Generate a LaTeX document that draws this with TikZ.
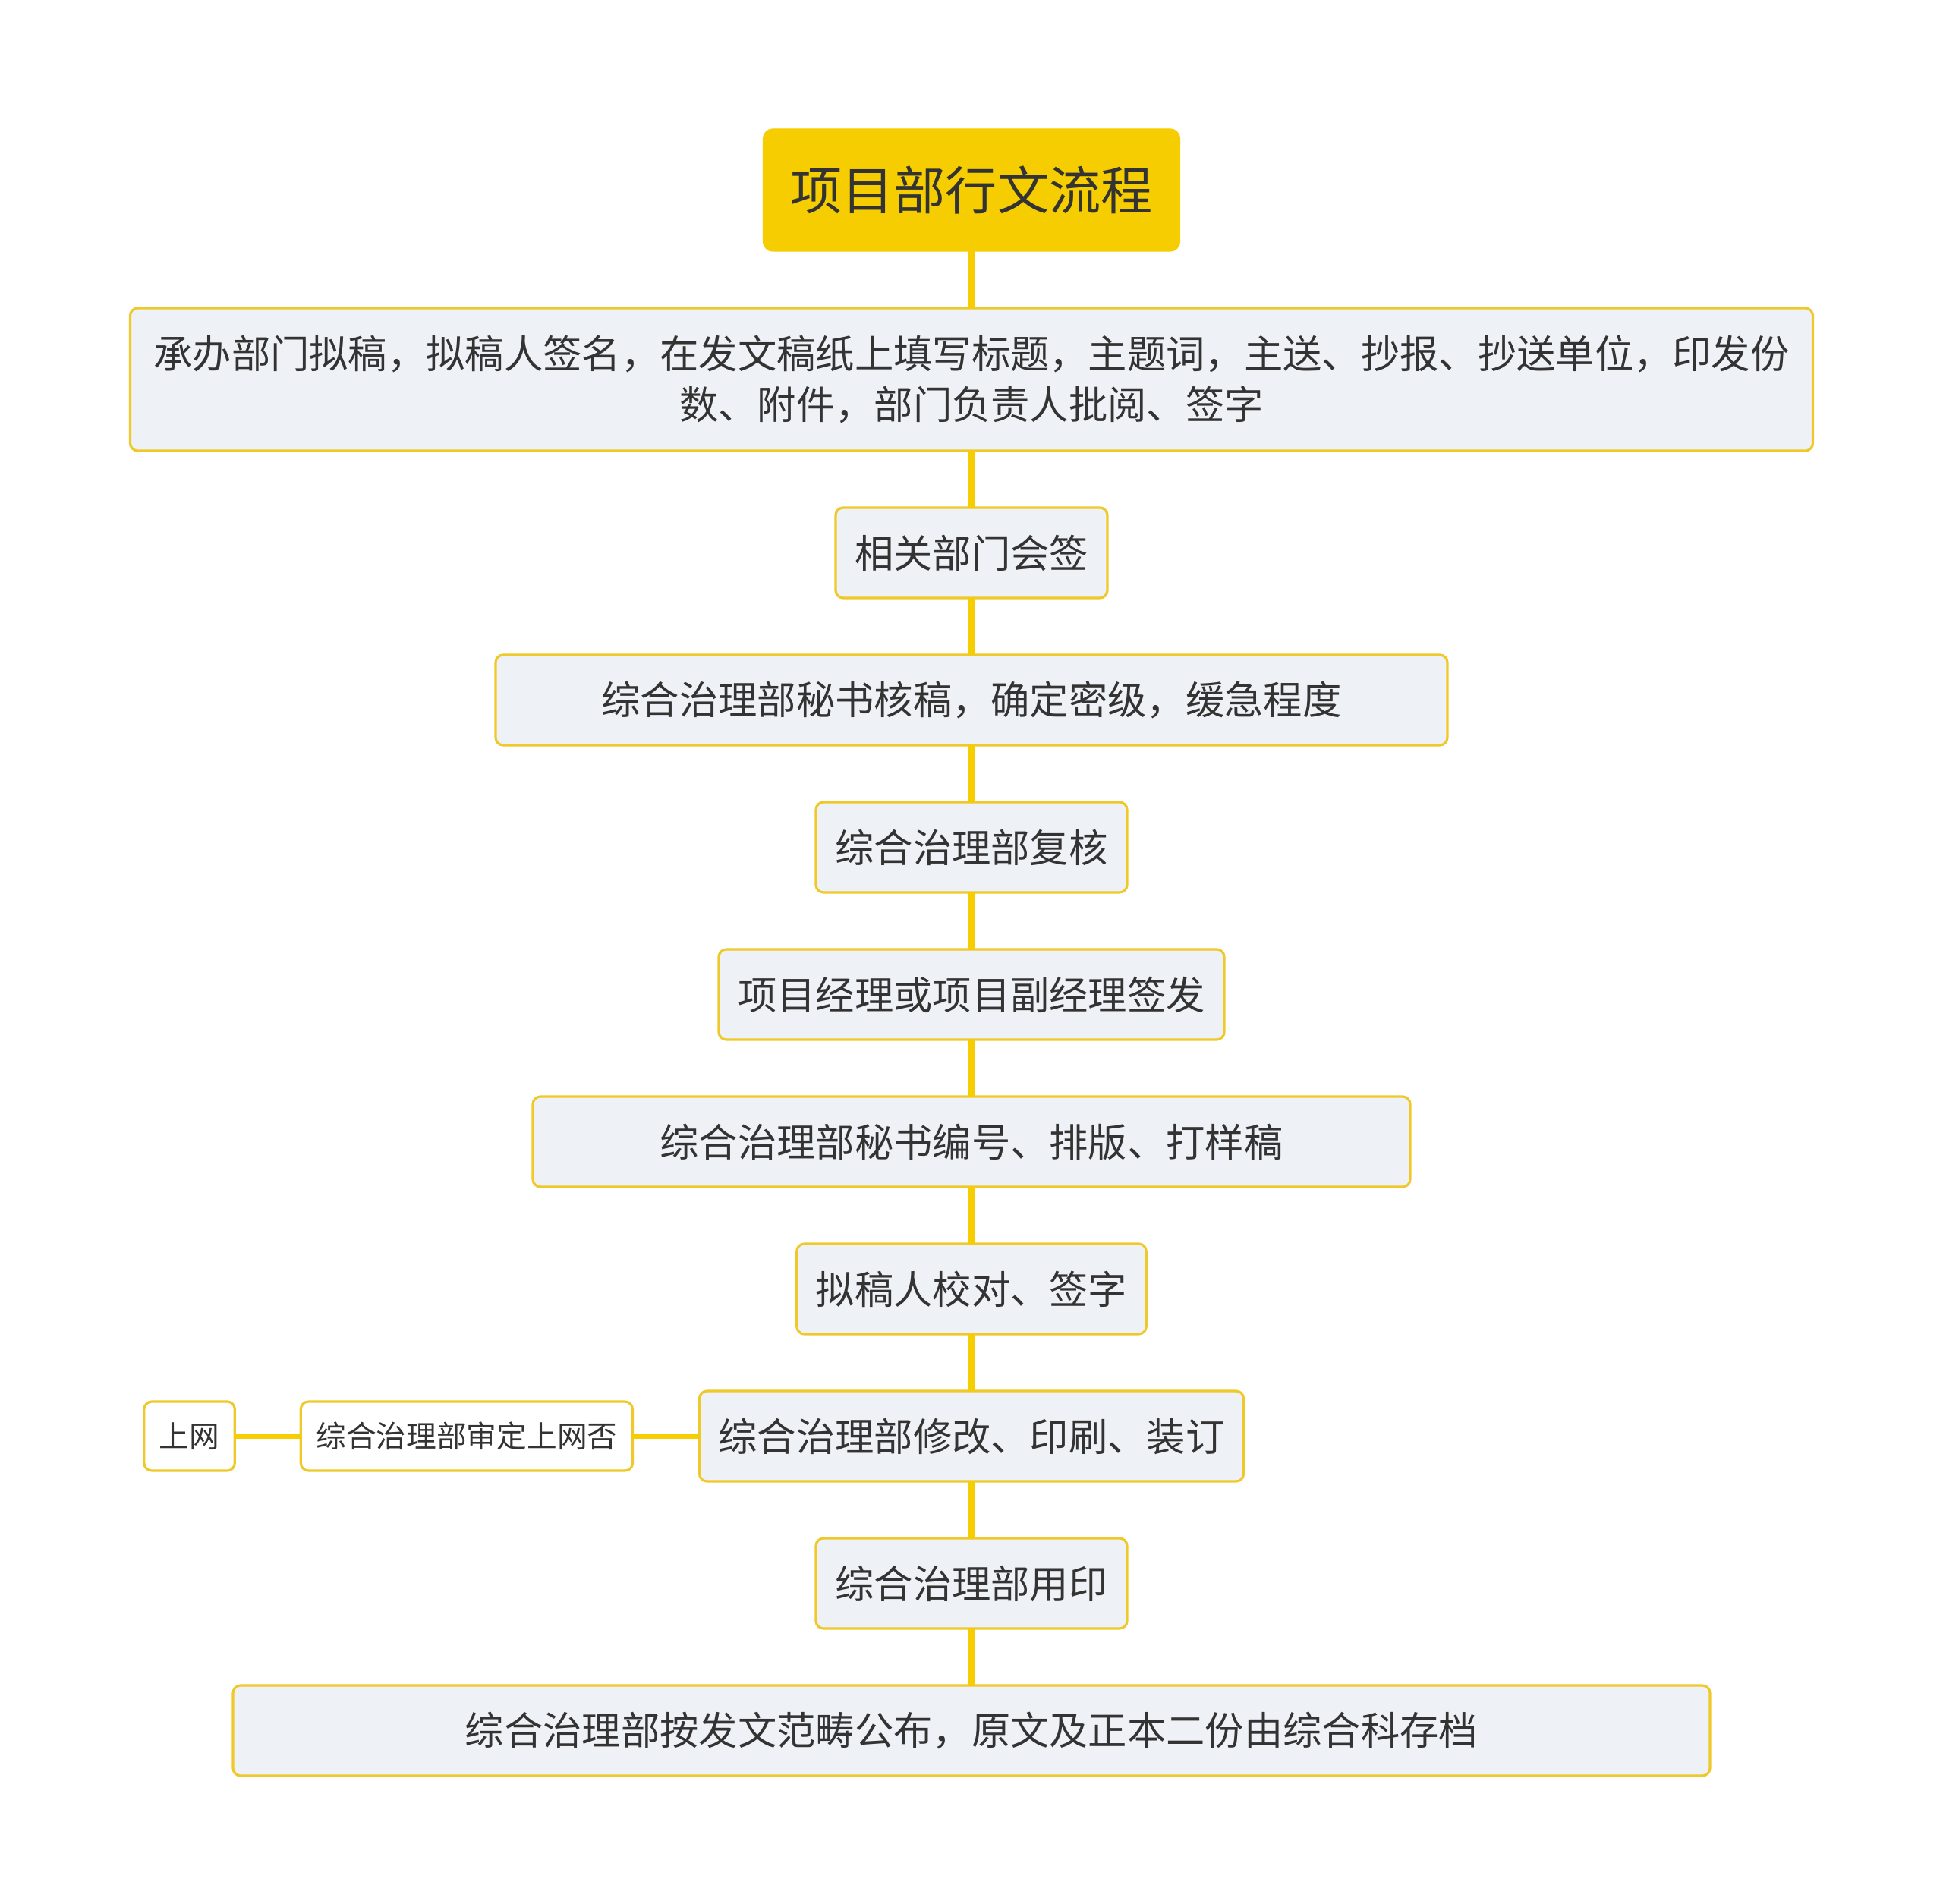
\documentclass[tikz,border=0pt]{standalone}
\usepackage{fontspec}
\newfontfamily\cjk{Noto Sans CJK SC}
\usetikzlibrary{positioning}
\definecolor{gold}{HTML}{F5CD00}
\definecolor{rim}{HTML}{EFC92A}
\definecolor{pane}{HTML}{EEF1F5}
\definecolor{ink}{HTML}{333333}
\tikzset{
  title/.style={
    fill=gold, draw=gold, rounded corners=1.3mm, align=center, text=ink,
    font=\cjk\fontsize{19.4pt}{24pt}\selectfont, outer sep=0pt,
    minimum width=54.9mm, minimum height=16.1mm
  },
  stepbox/.style={
    draw=rim, fill=pane, line width=0.9pt, rounded corners=1mm, align=center,
    text=ink, font=\cjk\fontsize{14.6pt}{19.1pt}\selectfont, outer sep=0pt,
    minimum height=11.9mm, inner xsep=2.5mm
  },
  sidebox/.style={
    draw=rim, fill=white, line width=0.9pt, rounded corners=1mm, align=center,
    text=ink, font=\cjk\fontsize{11.3pt}{14pt}\selectfont, outer sep=0pt,
    minimum height=9.1mm, inner xsep=2mm
  },
  link/.style={draw=gold, line width=2.2pt},
  sidelink/.style={draw=gold, line width=1.8pt}
}
\begin{document}
\begin{tikzpicture}[node distance=7.5mm]
  \useasboundingbox (0,0) rectangle (25.6,-25.09);
  % --- main column ----------------------------------------------------
  \node[title] (proc) at (12.8,-2.505) {项目部行文流程};
  \node[stepbox, below=of proc, minimum width=221.7mm, minimum height=18.8mm] (draft)
    {承办部门拟稿，拟稿人签名，在发文稿纸上填写标题，主题词，主送、抄报、抄送单位，印发份\\数、附件，部门负责人批阅、签字};
  \node[stepbox, below=of draft, minimum width=35.8mm] (cosign) {相关部门会签};
  \node[stepbox, below=of cosign, minimum width=125.4mm] (review) {综合治理部秘书核稿，确定密级，缓急程度};
  \node[stepbox, below=of review, minimum width=41mm] (recheck) {综合治理部复核};
  \node[stepbox, below=of recheck, minimum width=66.6mm] (sign) {项目经理或项目副经理签发};
  \node[stepbox, below=of sign, minimum width=115.6mm] (typeset) {综合治理部秘书编号、排版、打样稿};
  \node[stepbox, below=of typeset, minimum width=46mm] (proof) {拟稿人校对、签字};
  \node[stepbox, below=of proof, minimum width=71.5mm] (print) {综合治理部修改、印刷、装订};
  \node[stepbox, below=of print, minimum width=41mm] (seal) {综合治理部用印};
  \node[stepbox, below=of seal, minimum width=194.6mm] (publish) {综合治理部按发文范畴公布，原文及正本二份由综合科存档};

  \draw[link] (proc) -- (draft);
  \draw[link] (draft) -- (cosign);
  \draw[link] (cosign) -- (review);
  \draw[link] (review) -- (recheck);
  \draw[link] (recheck) -- (sign);
  \draw[link] (sign) -- (typeset);
  \draw[link] (typeset) -- (proof);
  \draw[link] (proof) -- (print);
  \draw[link] (print) -- (seal);
  \draw[link] (seal) -- (publish);

  % --- side branch (right to left) -------------------------------------
  \node[sidebox, left=8.8mm of print, minimum width=43.7mm] (audit) {综合治理部审定上网否};
  \node[sidebox, left=8.7mm of audit, minimum width=11.9mm] (web) {上网};

  \draw[sidelink] (print) -- (audit);
  \draw[sidelink] (audit) -- (web);
\end{tikzpicture}
\end{document}
